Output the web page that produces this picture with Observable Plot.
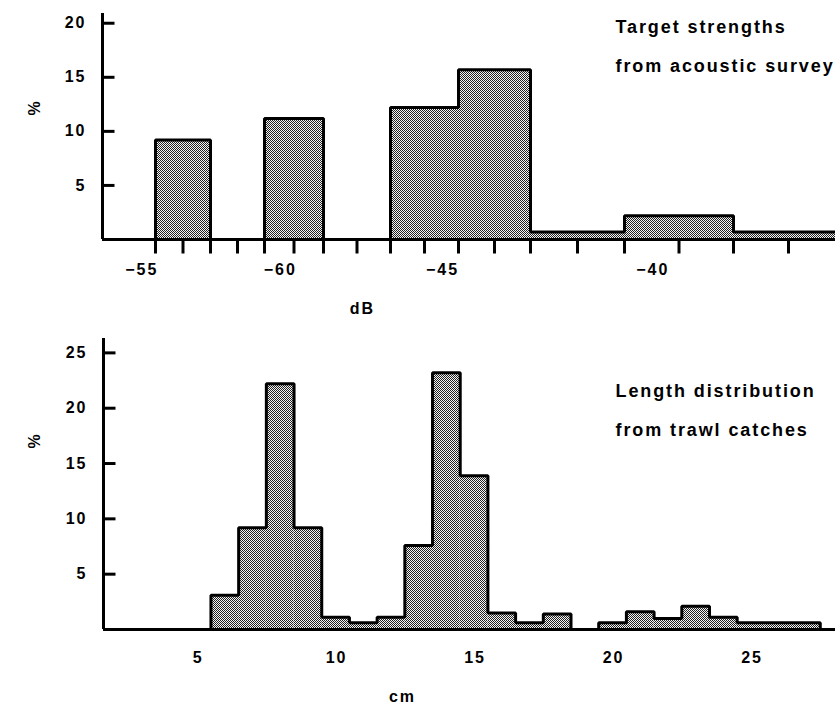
<!DOCTYPE html>
<html>
<head>
<meta charset="utf-8">
<script src="https://cdn.jsdelivr.net/npm/d3@7"></script>
<script src="https://cdn.jsdelivr.net/npm/@observablehq/plot@0.6"></script>
<style>
html, body { margin: 0; padding: 0; background: #fff; overflow: hidden; }
#chart { width: 835px; height: 707px; overflow: hidden; }
#chart svg { display: block; }
g.ttl { letter-spacing: 1.9px; }
</style>
</head>
<body>
<div id="chart"></div>
<script>
// ---------- Top panel: target strengths (dB) ----------
const tsBinStart = [-54.5, -52.5, -50.5, -48.5, -46.5, -44.5, -42.5, -40.5, -38.5];
const tsBinWidth = 2;
const tsPercent  = [9.2, 0, 11.2, 0, 12.2, 15.7, 0.7, 2.2, 0.7];
const tsTicks = [-54.5, -53.5, -52.5, -51.5, -50.5, -49.5, -48.5, -47.5, -46.5,
                 -45.5, -44.5, -43.5, -42.5, -41.5, -40.5, -39.5, -38.5, -37.5];
const tsLabelValues = [-55, -50, -45, -40];
const tsLabelText   = ["−55", "−60", "−45", "−40"];
const tsYTicks = [5, 10, 15, 20];
const tsYMax = 20.9;
// the printed dB axis is not uniform: piecewise scale knots (dB -> px)
const tsKnots   = [-56.3, -54.5, -52.5, -50.5, -48.5, -46.5, -44.5, -42.5, -40.5, -38.5, -36.5];
const tsKnotsPx = [102, 155, 210, 264, 323, 390, 458, 530, 624, 733, 843];

// ---------- Bottom panel: length distribution (cm) ----------
const lenBinStart = [5.5, 6.5, 7.5, 8.5, 9.5, 10.5, 11.5, 12.5, 13.5, 14.5, 15.5,
                     16.5, 17.5, 18.5, 19.5, 20.5, 21.5, 22.5, 23.5, 24.5, 25.5, 26.5];
const lenBinWidth = 1;
const lenPercent  = [3.1, 9.2, 22.2, 9.2, 1.1, 0.6, 1.1, 7.6, 23.2, 13.9, 1.5,
                     0.6, 1.4, 0, 0.6, 1.6, 1.0, 2.1, 1.1, 0.6, 0.6, 0.6];
const lenLabelValues = [5, 10, 15, 20, 25];
const lenYTicks = [5, 10, 15, 20, 25];
const lenYMax = 26.3;
const lenXDomain = [1.62, 28.05];

// ---------- helpers ----------
function bins(starts, width, vals) {
  return starts.map((s, i) => ({x1: s, x2: s + width, y: vals[i]}));
}
function outline(starts, width, vals) {
  const pts = [{x: starts[0], y: 0}];
  starts.forEach((s, i) => pts.push({x: s, y: vals[i]}));
  const last = starts[starts.length - 1] + width;
  pts.push({x: last, y: vals[vals.length - 1]}, {x: last, y: 0});
  return pts;
}
const tickRight = {draw(c) { c.moveTo(0, 0); c.lineTo(12, 0); }};
const tickDown  = {draw(c) { c.moveTo(0, 0); c.lineTo(0, 14); }};

const baseStyle = {
  fontFamily: "'Liberation Sans', Arial, sans-serif",
  fontSize: "16px",
  fontWeight: "bold",
  letterSpacing: "2px",
  color: "black",
  background: "white"
};

function addPattern(svg, id) {
  const defs = d3.select(svg).insert("defs", ":first-child");
  const p = defs.append("pattern").attr("id", id)
    .attr("width", 2).attr("height", 2).attr("patternUnits", "userSpaceOnUse");
  p.append("rect").attr("width", 2).attr("height", 2).attr("fill", "#f4f4f4");
  p.append("rect").attr("width", 1).attr("height", 1).attr("fill", "#222");
  p.append("rect").attr("x", 1).attr("y", 1).attr("width", 1).attr("height", 1).attr("fill", "#222");
}

// ---------- Top plot ----------
const topPlot = Plot.plot({
  width: 835, height: 320,
  marginLeft: 102, marginRight: 0, marginTop: 13, marginBottom: 81,
  style: baseStyle,
  x: {type: "linear", domain: tsKnots, range: tsKnotsPx, axis: null},
  y: {domain: [0, tsYMax], axis: null},
  marks: [
    Plot.rectY(bins(tsBinStart, tsBinWidth, tsPercent), {x1: "x1", x2: "x2", y: "y", fill: "url(#stipTop)", clip: true}),
    Plot.ruleY([0], {stroke: "black", strokeWidth: 3}),
    Plot.line(outline(tsBinStart, tsBinWidth, tsPercent), {x: "x", y: "y", curve: "step-after", stroke: "black", strokeWidth: 3, strokeLinejoin: "miter", clip: true}),
    Plot.ruleX([tsKnots[0]], {y1: 0, y2: tsYMax, stroke: "black", strokeWidth: 3}),
    Plot.dot(tsYTicks, {y: d => d, frameAnchor: "left", symbol: tickRight, stroke: "black", strokeWidth: 3, fill: "none"}),
    Plot.dot(tsTicks, {x: d => d, frameAnchor: "bottom", symbol: tickDown, stroke: "black", strokeWidth: 3, fill: "none"}),
    Plot.text(tsYTicks, {y: d => d, text: d => String(d), frameAnchor: "left", textAnchor: "end", dx: -16, fill: "black"}),
    Plot.text(tsLabelValues, {x: d => d, text: (d, i) => tsLabelText[i], frameAnchor: "bottom", dy: 35, dx: 1, fill: "black"}),
    Plot.text(["dB"], {text: d => d, frameAnchor: "bottom-left", dx: 260, dy: 74, textAnchor: "middle", fill: "black"}),
    Plot.text(["%"], {text: d => d, frameAnchor: "top-left", dx: -74, dy: 94, rotate: -90, textAnchor: "middle", fill: "black"}),
    Plot.text(["Target strengths\nfrom acoustic survey"], {text: d => d, className: "ttl", frameAnchor: "top-left", dx: 513, dy: -8, textAnchor: "start", lineAnchor: "top", lineHeight: 2.17, fontSize: 18, fill: "black"})
  ]
});
addPattern(topPlot, "stipTop");

// ---------- Bottom plot ----------
const bottomPlot = Plot.plot({
  width: 835, height: 387,
  marginLeft: 103, marginRight: 0, marginTop: 18, marginBottom: 78,
  style: baseStyle,
  x: {domain: lenXDomain, axis: null},
  y: {domain: [0, lenYMax], axis: null},
  marks: [
    Plot.rectY(bins(lenBinStart, lenBinWidth, lenPercent), {x1: "x1", x2: "x2", y: "y", fill: "url(#stipBottom)", clip: true}),
    Plot.ruleY([0], {stroke: "black", strokeWidth: 3}),
    Plot.line(outline(lenBinStart, lenBinWidth, lenPercent), {x: "x", y: "y", curve: "step-after", stroke: "black", strokeWidth: 3, strokeLinejoin: "miter", clip: true}),
    Plot.ruleX([lenXDomain[0]], {y1: 0, y2: lenYMax, stroke: "black", strokeWidth: 3}),
    Plot.dot(lenYTicks, {y: d => d, frameAnchor: "left", symbol: tickRight, stroke: "black", strokeWidth: 3, fill: "none"}),
    Plot.text(lenYTicks, {y: d => d, text: d => String(d), frameAnchor: "left", textAnchor: "end", dx: -16, fill: "black"}),
    Plot.text(lenLabelValues, {x: d => d, text: d => String(d), frameAnchor: "bottom", dy: 33, dx: 1, fill: "black"}),
    Plot.text(["cm"], {text: d => d, frameAnchor: "bottom-left", dx: 299, dy: 72, textAnchor: "middle", fill: "black"}),
    Plot.text(["%"], {text: d => d, frameAnchor: "top-left", dx: -75, dy: 102, rotate: -90, textAnchor: "middle", fill: "black"}),
    Plot.text(["Length distribution\nfrom trawl catches"], {text: d => d, className: "ttl", frameAnchor: "top-left", dx: 512, dy: 31, textAnchor: "start", lineAnchor: "top", lineHeight: 2.17, fontSize: 18, fill: "black"})
  ]
});
addPattern(bottomPlot, "stipBottom");

const root = document.getElementById("chart");
root.appendChild(topPlot);
root.appendChild(bottomPlot);
</script>
</body>
</html>
